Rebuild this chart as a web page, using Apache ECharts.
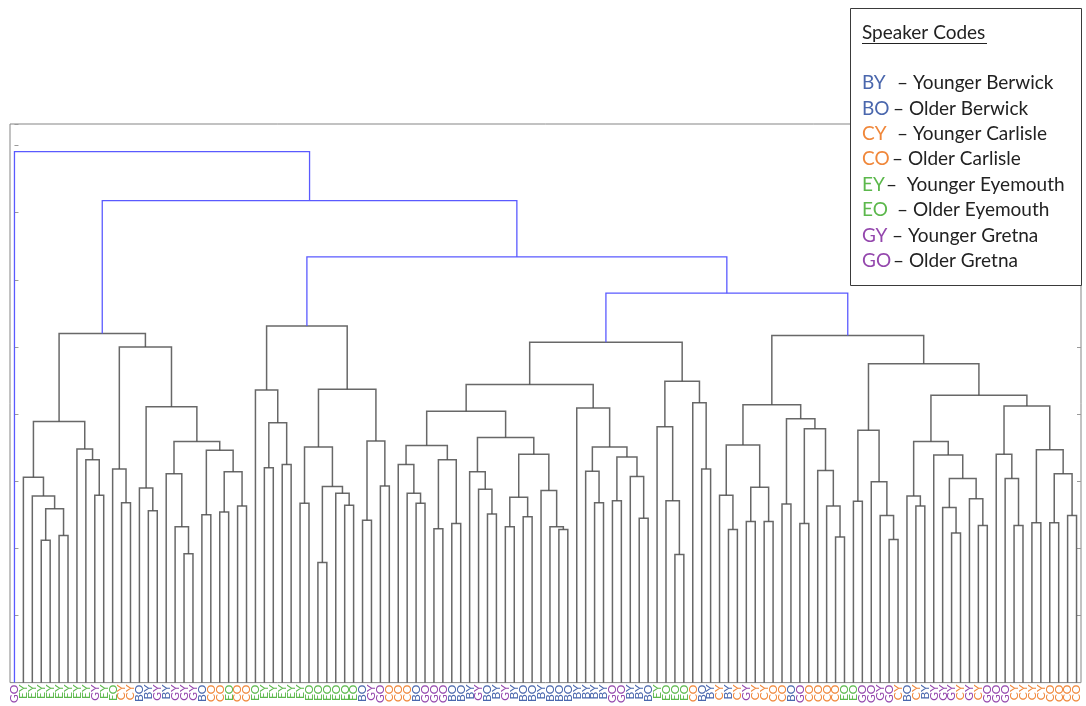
<!DOCTYPE html>
<html>
<head>
<meta charset="utf-8">
<script src="https://cdn.jsdelivr.net/npm/echarts@6/dist/echarts.min.js"></script>
<style>
  html, body { margin: 0; padding: 0; background: #fff; }
  #chart { width: 1086px; height: 706px; }
</style>
</head>
<body>
<div id="chart"></div>
<script>
// Speaker code of every leaf, left to right
const leafLabels = [
  'GO','EY','EY','EY','EY','EY','EY','EY','EY','GY',
  'EY','EO','CY','CY','BO','BY','GY','BY','GY','GY',
  'GY','BO','CO','CO','EO','CO','CO','EO','EY','EY',
  'EY','EY','EY','EO','EO','EO','EO','EO','EO','BO',
  'GY','GO','CO','CO','CO','BO','GO','GO','GO','BO',
  'BO','BY','GY','BO','BY','GY','BY','BO','BO','BY',
  'BO','BO','BO','BY','BY','BY','BY','GO','GO','BY',
  'BY','BO','EY','EO','EO','EO','CO','BO','BY','CY',
  'BY','CY','GY','CY','CY','CO','CO','BO','GO','CO',
  'CO','CO','CO','EO','EO','GO','GO','GY','GO','CY',
  'BO','CY','BY','GY','GY','GY','CY','GY','CY','GO',
  'GO','GO','CY','CY','CY','CY','CO','CO','CO','CO'
];

// Town colours (first letter of the code)
const townColors = { B: '#4a67ad', C: '#f0873a', E: '#5cb84c', G: '#9447ad' };

// Merge trees: a leaf is its index, a merge is [left, right, height]
const clusterA = [
  [[1, [2, [[3, 4, 2.12], [5, 6, 2.19], 2.59], 2.78], 3.06],
   [7, [8, [9, 10, 2.79], 3.32], 3.48], 3.89],
  [[11, [12, 13, 2.68], 3.18],
   [[14, [15, 16, 2.56], 2.90],
    [[17, [18, [19, 20, 1.92], 2.32], 3.11],
     [[21, 22, 2.50], [[23, 24, 2.54], [25, 26, 2.63], 3.14], 3.46], 3.59], 4.11], 5.00],
  5.20
];

const clusterB = [
  [27, [[28, 29, 3.20], [30, 31, 3.25], 3.87], 4.36],
  [[[32, 33, 2.67], [[34, 35, 1.79], [36, [37, 38, 2.64], 2.82], 2.92], 3.51],
   [[39, 40, 2.42], [41, 42, 2.93], 3.60], 4.37],
  5.31
];

const clusterC = [
  [[[[43, [44, [45, 46, 2.67], 2.82], 3.25], [[47, 48, 2.29], [49, 50, 2.37], 3.32], 3.53],
    [[51, [52, [53, 54, 2.51], 2.88], 3.14],
     [[[55, 56, 2.32], [57, 58, 2.47], 2.76], [59, [60, [61, 62, 2.28], 2.32], 2.86], 3.40], 3.65],
    4.04],
   [63, [[64, [65, 66, 2.68], 3.15], [[67, 68, 2.71], [69, [70, 71, 2.45], 3.07], 3.36], 3.51], 4.09],
   4.44],
  [[72, [73, [74, 75, 1.91], 2.71], 3.81], [76, [77, 78, 3.18], 4.17], 4.49],
  5.07
];

const clusterD = [
  [[[79, [80, 81, 2.28], 2.79], [[82, 83, 2.40], [84, 85, 2.40], 2.91], 3.54],
   [[86, 87, 2.66], [[88, 89, 2.37], [90, [91, [92, 93, 2.17], 2.63], 3.16], 3.78], 3.93],
   4.14],
  [[[94, 95, 2.70], [96, [97, [98, 99, 2.13], 2.49], 2.99], 3.76],
   [[[100, [101, 102, 2.63], 2.78],
     [103, [[104, [105, 106, 2.23], 2.61], [107, [108, 109, 2.34], 2.74], 3.04], 3.39], 3.59],
    [[110, [111, [112, 113, 2.34], 3.04], 3.40],
     [[114, 115, 2.38], [[116, 117, 2.38], [118, 119, 2.49], 3.11], 3.47], 4.12],
    4.28],
   4.75],
  5.17
];

// Heights of the upper merges: C+D, B+(C,D), A+(B,C,D), leaf 0 + everything
const upperHeights = [5.80, 6.34, 7.18, 7.91];

const legendCodes = ['BY', 'BO', 'CY', 'CO', 'EY', 'EO', 'GY', 'GO'];
const legendNames = [
  '\u2013 Younger Berwick', '\u2013 Older Berwick', '\u2013 Younger Carlisle', '\u2013 Older Carlisle',
  '\u2013  Younger Eyemouth', '\u2013 Older Eyemouth', '\u2013 Younger Gretna', '\u2013 Older Gretna'
];

const tree = [0, [clusterA, [clusterB, [clusterC, clusterD, upperHeights[0]], upperHeights[1]], upperHeights[2]], upperHeights[3]];

const CUT = 5.5;          // merges above this level are drawn in blue
const BLUE = '#5a5aff';
const GREY = '#4e4e4e';

// Turn the merge tree into U-shaped links in data coordinates
const links = [];
function walk(node) {
  if (typeof node === 'number') return { x: node, h: 0 };
  const l = walk(node[0]);
  const r = walk(node[1]);
  const h = node[2];
  const blue = h > CUT;
  links.push({
    coords: [[l.x, l.h], [l.x, h], [r.x, h], [r.x, r.h]],
    lineStyle: { color: blue ? BLUE : GREY, width: blue ? 1.3 : 1.5, opacity: blue ? 1 : 0.85 }
  });
  return { x: (l.x + r.x) / 2, h: h };
}
walk(tree);

const chart = echarts.init(document.getElementById('chart'), null, { renderer: 'canvas' });

const legendFont = '19px Lato, "Open Sans", sans-serif';
const nameX = [897, 893, 897, 892, 886, 897, 892, 893];
const legendGraphics = [
  { type: 'rect', shape: { x: 850.5, y: 8.5, width: 231, height: 277 },
    style: { fill: '#fff', stroke: '#3a3a3a', lineWidth: 1 }, z: 10 },
  { type: 'text', x: 862, y: 33, z: 11,
    style: { text: 'Speaker Codes', font: legendFont, fill: '#222', verticalAlign: 'middle' } },
  { type: 'line', z: 11, shape: { x1: 862, y1: 43.5, x2: 987, y2: 43.5 },
    style: { stroke: '#222', lineWidth: 1.2 } }
];
legendCodes.forEach(function (code, i) {
  const y = 83 + i * 25.4;
  legendGraphics.push({ type: 'text', x: 862, y: y, z: 11,
    style: { text: code, font: legendFont, fill: townColors[code[0]], verticalAlign: 'middle' } });
  legendGraphics.push({ type: 'text', x: nameX[i], y: y, z: 11,
    style: { text: legendNames[i], font: legendFont, fill: '#222', verticalAlign: 'middle' } });
});

const yAxisBase = {
  type: 'value', min: 0, max: 8.32, interval: 1,
  axisLine: { show: false },
  axisTick: { show: true, inside: true, length: 4, lineStyle: { color: '#9a9a9a' } },
  axisLabel: { show: false },
  splitLine: { show: false }
};

chart.setOption({
  animation: false,
  backgroundColor: '#fff',
  grid: { left: 10, right: 5, top: 124, bottom: 16, show: true,
          borderColor: '#858585', borderWidth: 1, backgroundColor: 'transparent' },
  xAxis: [
    { type: 'value', min: -0.5, max: leafLabels.length - 0.5, show: false },
    { type: 'category', data: leafLabels, position: 'bottom', boundaryGap: true,
      axisLine: { show: false }, axisTick: { show: false },
      axisLabel: { interval: 0, rotate: 90, margin: 2, fontSize: 12,
        fontFamily: 'Lato, sans-serif',
        color: function (v) { return townColors[v[0]]; } } }
  ],
  yAxis: [
    Object.assign({ position: 'left' }, yAxisBase),
    Object.assign({ position: 'right' }, yAxisBase)
  ],
  series: [{
    type: 'lines',
    coordinateSystem: 'cartesian2d',
    xAxisIndex: 0, yAxisIndex: 0,
    polyline: true,
    silent: true,
    data: links
  }],
  graphic: legendGraphics
});
</script>
</body>
</html>
